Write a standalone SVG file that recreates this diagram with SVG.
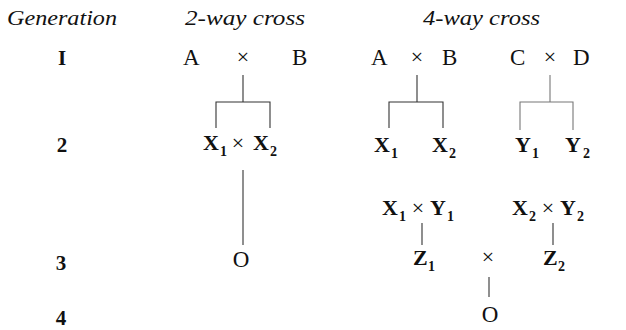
<svg xmlns="http://www.w3.org/2000/svg" width="626" height="330" viewBox="0 0 626 330">
<style>
text{font-family:"Liberation Serif","Times New Roman",serif;fill:#111}
.hd{font-style:italic;font-size:22px}
.gen{font-weight:bold;font-size:21px;text-anchor:middle}
.l{font-size:23px}
.b{font-size:22px;font-weight:bold}
.s{font-size:14px;font-weight:bold}
.x{font-size:22px;text-anchor:middle}
.o{font-size:23px;text-anchor:middle}
.ln{stroke:#333;stroke-width:1.1;fill:none}
.lt{stroke:#777;stroke-width:1.1;fill:none}
</style>
<rect width="626" height="330" fill="#fff"/>
<g id="headers">
<text class="hd" x="7" y="25" textLength="110" lengthAdjust="spacingAndGlyphs">Generation</text>
<text class="hd" x="185" y="25" textLength="120" lengthAdjust="spacingAndGlyphs">2-way cross</text>
<text class="hd" x="423" y="25" textLength="117" lengthAdjust="spacingAndGlyphs">4-way cross</text>
</g>
<g id="gen-labels">
<text class="gen" x="62" y="65">I</text>
<text class="gen" x="62" y="152">2</text>
<text class="gen" x="61" y="270">3</text>
<text class="gen" x="61" y="325">4</text>
</g>
<g id="two-way-AxB">
<text class="l" x="183" y="65">A</text>
<text class="x" x="243" y="64">×</text>
<text class="l" x="292" y="65">B</text>
</g>
<g id="two-way-X1xX2">
<text class="b" x="203" y="150">X</text><text class="s" x="220" y="156">1</text>
<text class="x" x="238" y="150">×</text>
<text class="b" x="253" y="150">X</text><text class="s" x="270" y="156">2</text>
</g>
<g id="two-way-O">
<text class="o" x="241" y="267">O</text>
</g>
<g id="four-way-AxB">
<text class="l" x="371" y="65">A</text>
<text class="x" x="417" y="64">×</text>
<text class="l" x="442" y="65">B</text>
</g>
<g id="four-way-CxD">
<text class="l" x="510" y="65">C</text>
<text class="x" x="550" y="64">×</text>
<text class="l" x="573" y="65">D</text>
</g>
<g id="X1"><text class="b" x="374" y="152">X</text><text class="s" x="391" y="158">1</text></g>
<g id="X2"><text class="b" x="432" y="152">X</text><text class="s" x="449" y="158">2</text></g>
<g id="Y1"><text class="b" x="515" y="152">Y</text><text class="s" x="532" y="158">1</text></g>
<g id="Y2"><text class="b" x="565" y="152">Y</text><text class="s" x="583" y="158">2</text></g>
<g id="X1xY1">
<text class="b" x="382" y="215">X</text><text class="s" x="399" y="221">1</text>
<text class="x" x="418" y="215">×</text>
<text class="b" x="430" y="215">Y</text><text class="s" x="447" y="221">1</text>
</g>
<g id="X2xY2">
<text class="b" x="512" y="215">X</text><text class="s" x="529" y="221">2</text>
<text class="x" x="548" y="215">×</text>
<text class="b" x="560" y="215">Y</text><text class="s" x="577" y="221">2</text>
</g>
<g id="Z1xZ2">
<text class="b" x="413" y="265">Z</text><text class="s" x="428" y="271">1</text>
<text class="x" x="488" y="264">×</text>
<text class="b" x="543" y="265">Z</text><text class="s" x="558" y="271">2</text>
</g>
<g id="four-way-O">
<text class="o" x="490" y="322">O</text>
</g>
<g id="connectors">
<path class="ln" d="M243 75V102M216 128V102H270V128"/>
<path class="ln" d="M243 170V245"/>
<path class="ln" d="M417 75V102M389 128V102H443V128"/>
<path class="lt" d="M550 75V102M520 130V102H573V130"/>
<path class="ln" d="M422 223V245M553 223V245"/>
<path class="ln" d="M489 277V297"/>
</g>
</svg>
